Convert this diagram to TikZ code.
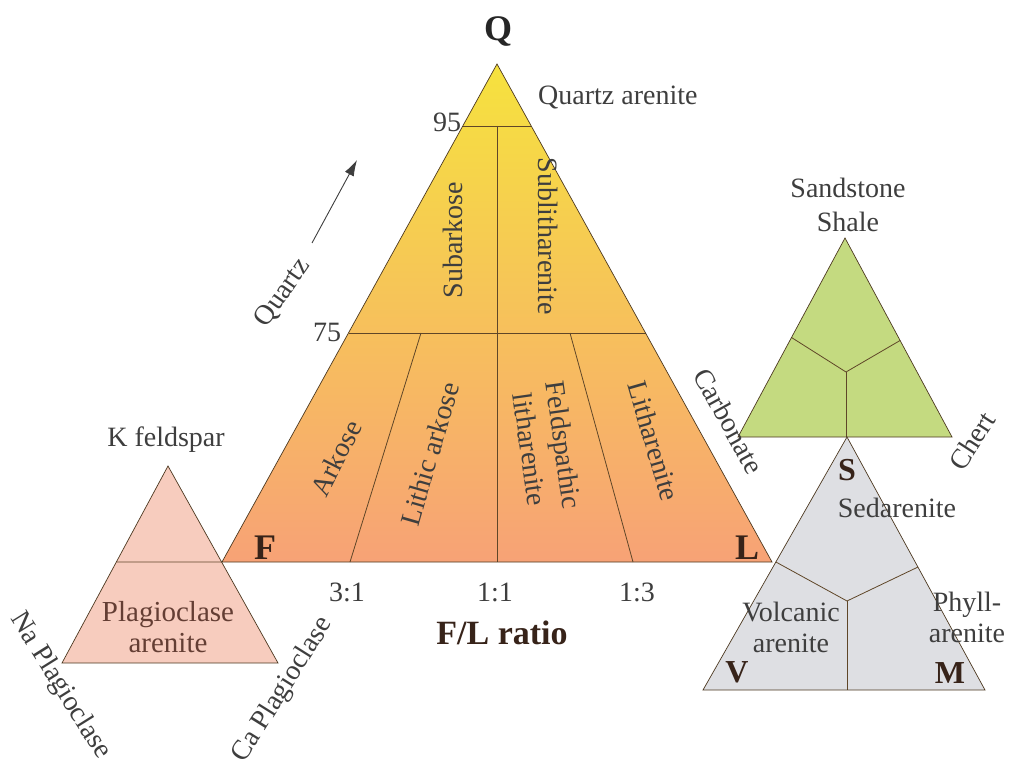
\documentclass[tikz,border=0pt]{standalone}
\usepackage{fontspec}
\setmainfont{Liberation Serif}
\usetikzlibrary{arrows.meta,calc}
\definecolor{txt}{RGB}{62,62,62}
\definecolor{dk}{RGB}{55,35,25}
\definecolor{edgec}{RGB}{95,70,40}
\definecolor{ytop}{RGB}{246,226,62}
\definecolor{ymid}{RGB}{246,198,92}
\definecolor{ybot}{RGB}{247,162,118}
\definecolor{pinkf}{RGB}{247,204,190}
\definecolor{greenf}{RGB}{196,218,128}
\definecolor{grayf}{RGB}{222,223,227}
\definecolor{plagtxt}{RGB}{100,62,52}
\begin{document}
\begin{tikzpicture}[x=1pt,y=-1pt,
  lbl/.style={text=txt,font=\fontsize{28}{31}\selectfont,inner sep=0pt,align=center},
  biglbl/.style={text=dk,font=\fontsize{36}{38}\selectfont\bfseries,inner sep=0pt},
  tline/.style={draw=edgec,line width=0.8pt},
  oline/.style={draw=edgec!80!black,line width=0.7pt}]
\useasboundingbox (0,0) rectangle (1013,765);
% ---------- main triangle ----------
\coordinate (Q) at (497,64);
\coordinate (F) at (222,562);
\coordinate (L) at (772,562);
\shade[top color=ytop,middle color=ymid,bottom color=ybot] (Q) -- (F) -- (L) -- cycle;
\coordinate (a95l) at ($(F)!0.8755!(Q)$);
\coordinate (a95r) at ($(L)!0.8755!(Q)$);
\coordinate (a75l) at ($(F)!0.46!(Q)$);
\coordinate (a75r) at ($(L)!0.46!(Q)$);
\coordinate (m95) at (497,126);
\coordinate (m0) at (497,562);
\coordinate (d1t) at (421,333);
\coordinate (d1b) at (350,562);
\coordinate (d2t) at (570,333);
\coordinate (d2b) at (633,562);
\draw[tline] (a95l) -- (a95r);
\draw[tline] (a75l) -- (a75r);
\draw[tline] (m95) -- (m0);
\draw[tline] (d1t) -- (d1b);
\draw[tline] (d2t) -- (d2b);
\draw[oline] (Q) -- (F) -- (L) -- cycle;
% ---------- K feldspar triangle ----------
\coordinate (K) at (168,466);
\coordinate (Na) at (62,663);
\coordinate (Ca) at (278,663);
\fill[pinkf] (K) -- (Na) -- (Ca) -- cycle;
\coordinate (kl) at ($(K)!0.487!(Na)$);
\draw[tline] (kl) -- (F);
\draw[oline] (K) -- (Na) -- (Ca) -- cycle;
% ---------- green triangle ----------
\coordinate (G) at (845,238);
\coordinate (GL) at (738,437);
\coordinate (GR) at (952,437);
\fill[greenf] (G) -- (GL) -- (GR) -- cycle;
\coordinate (gl) at ($(G)!0.5!(GL)$);
\coordinate (gr) at ($(G)!0.515!(GR)$);
\coordinate (gc) at (846,372);
\coordinate (gb) at (846,437);
\draw[tline] (gl) -- (gc) -- (gr);
\draw[tline] (gc) -- (gb);
\draw[oline] (G) -- (GL) -- (GR) -- cycle;
% ---------- gray triangle ----------
\coordinate (S) at (847,437);
\coordinate (V) at (703,690);
\coordinate (M) at (985,690);
\fill[grayf] (S) -- (V) -- (M) -- cycle;
\coordinate (sl) at ($(S)!0.494!(V)$);
\coordinate (sr) at ($(S)!0.514!(M)$);
\coordinate (sc) at (847,601);
\coordinate (sb) at (847,690);
\draw[tline] (sl) -- (sc) -- (sr);
\draw[tline] (sc) -- (sb);
\draw[oline] (S) -- (V) -- (M) -- cycle;
% ---------- arrow ----------
\coordinate (ar1) at (312,243);
\coordinate (ar2) at (357,160);
\draw[draw=txt,line width=0.9pt,-{Latex[length=16pt,width=10pt]}] (ar1) -- (ar2);
% ---------- labels main ----------
\node[biglbl,text=black!85] (nQ) at (498,32) {Q};
\node[lbl,anchor=west] (nqa) at (538,98) {Quartz arenite};
\node[lbl] (n95) at (447,122) {95};
\node[lbl] (n75) at (327,332) {75};
\node[lbl,rotate=55] (nquartz) at (283,293) {Quartz};
\node[lbl,rotate=90] (nsubark) at (453,240) {Subarkose};
\node[lbl,rotate=-90] (nsublit) at (548,236) {Sublitharenite};
\node[lbl,rotate=63] (nark) at (336,458) {Arkose};
\node[lbl,rotate=74] (nlark) at (430,454) {Lithic arkose};
\node[lbl,rotate=-82,font=\fontsize{28}{34}\selectfont] (nfl) at (547,447) {Feldspathic\\litharenite};
\node[lbl,rotate=-74] (nlit) at (654,441) {Litharenite};
\node[biglbl] (nF) at (265,548) {F};
\node[biglbl] (nL) at (747,548) {L};
\node[lbl] (n31) at (347,592) {3:1};
\node[lbl] (n11) at (495,592) {1:1};
\node[lbl] (n13) at (637,592) {1:3};
\node[biglbl,font=\fontsize{34}{36}\selectfont\bfseries] (nfl2) at (502,633) {F/L ratio};
\node[lbl,rotate=-61] (ncarb) at (729,421) {Carbonate};
% ---------- labels K feldspar ----------
\node[lbl] (nkf) at (166,440) {K feldspar};
\node[lbl,text=plagtxt,font=\fontsize{29}{31}\selectfont] (nplag) at (168,627) {Plagioclase\\arenite};
\node[lbl,rotate=-58] (nna) at (60,686) {Na Plagioclase};
\node[lbl,rotate=58] (nca) at (283,690) {Ca Plagioclase};
% ---------- labels green ----------
\node[lbl,font=\fontsize{28}{34}\selectfont] (nss) at (848,205) {Sandstone\\Shale};
\node[lbl,rotate=57] (nch) at (972,441) {Chert};
% ---------- labels gray ----------
\node[biglbl,font=\fontsize{32}{34}\selectfont\bfseries] (nS) at (847,470) {S};
\node[lbl] (nsed) at (897,508) {Sedarenite};
\node[lbl] (nvol) at (791,627) {Volcanic\\arenite};
\node[lbl] (nphy) at (967,617) {Phyll-\\arenite};
\node[biglbl,font=\fontsize{32}{34}\selectfont\bfseries] (nV) at (737,672) {V};
\node[biglbl,font=\fontsize{32}{34}\selectfont\bfseries] (nM) at (950,673) {M};
\end{tikzpicture}
\end{document}
